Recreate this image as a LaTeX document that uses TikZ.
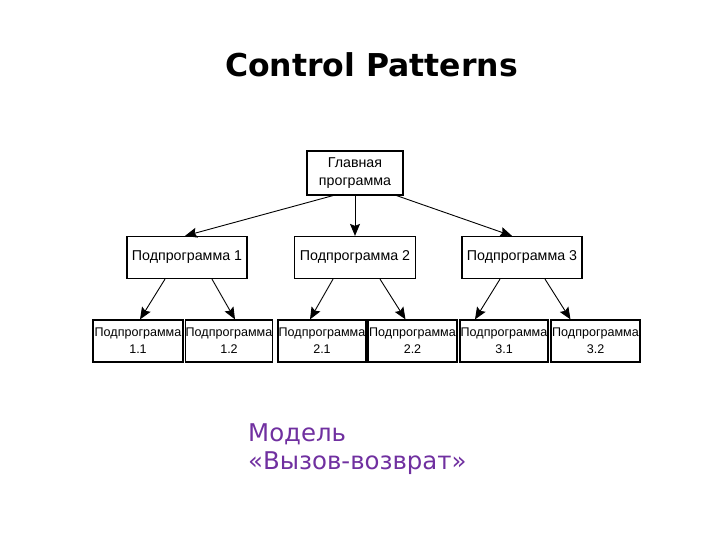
\documentclass[tikz,border=0pt]{standalone}
\usepackage{fontspec}
\setmainfont{Liberation Sans}
\newfontfamily\titlefont{DejaVu Sans}
\usetikzlibrary{arrows.meta}
\definecolor{notepurple}{RGB}{112,48,160}
\begin{document}
\begin{tikzpicture}[x=1bp, y=-1bp,
  box/.style={draw, line width=1.2bp, inner sep=0pt, align=center, minimum height=42bp},
  big/.style={box, font=\fontsize{14.3}{18}\selectfont},
  small/.style={box, font=\fontsize{12.6}{17}\selectfont},
  arr/.style={-{Stealth[length=12bp, width=10bp, inset=2bp]}, line width=0.9bp}]
\useasboundingbox (0,0) rectangle (720,540);

\node[anchor=base] (T) at (371.5, 77) {\titlefont\bfseries\fontsize{31.6}{36}\selectfont Control Patterns};

\node[big, minimum width=96bp, minimum height=44bp] (M) at (355, 173) {Главная\\программа};

\node[big, minimum width=120bp] (P1) at (187, 257.5) {Подпрограмма 1};
\node[big, minimum width=121bp] (P2) at (355, 257.5) {Подпрограмма 2};
\node[big, minimum width=120bp] (P3) at (522, 257.5) {Подпрограмма 3};

\node[small, minimum width=90bp] (P11) at (138, 341) {Подпрограмма\\1.1};
\node[small, minimum width=86bp] (P12) at (229, 341) {Подпрограмма\\1.2};
\node[small, minimum width=88bp] (P21) at (322, 341) {Подпрограмма\\2.1};
\node[small, minimum width=89bp] (P22) at (412.5, 341) {Подпрограмма\\2.2};
\node[small, minimum width=88bp] (P31) at (504, 341) {Подпрограмма\\3.1};
\node[small, minimum width=89bp] (P32) at (595.5, 341) {Подпрограмма\\3.2};

\node[anchor=north west, inner sep=0pt, align=left, text=notepurple,
  font=\titlefont\fontsize{24.5}{28}\selectfont] (N) at (248, 424) {Модель\\«Вызов-возврат»};

\draw[arr] ([xshift=-22bp]M.south) to ([xshift=-2bp]P1.north);
\draw[arr] (M.south) to (P2.north);
\draw[arr] ([xshift=-7bp]M.south east) to ([xshift=-10bp]P3.north);

\draw[arr] ([xshift=-22bp]P1.south) to ([xshift=2bp]P11.north);
\draw[arr] ([xshift=25bp]P1.south) to ([xshift=6bp]P12.north);
\draw[arr] ([xshift=-22bp]P2.south) to ([xshift=-12bp]P21.north);
\draw[arr] ([xshift=25bp]P2.south) to ([xshift=-7bp]P22.north);
\draw[arr] ([xshift=-22bp]P3.south) to ([xshift=-29bp]P31.north);
\draw[arr] ([xshift=23bp]P3.south) to ([xshift=-25bp]P32.north);
\end{tikzpicture}
\end{document}
